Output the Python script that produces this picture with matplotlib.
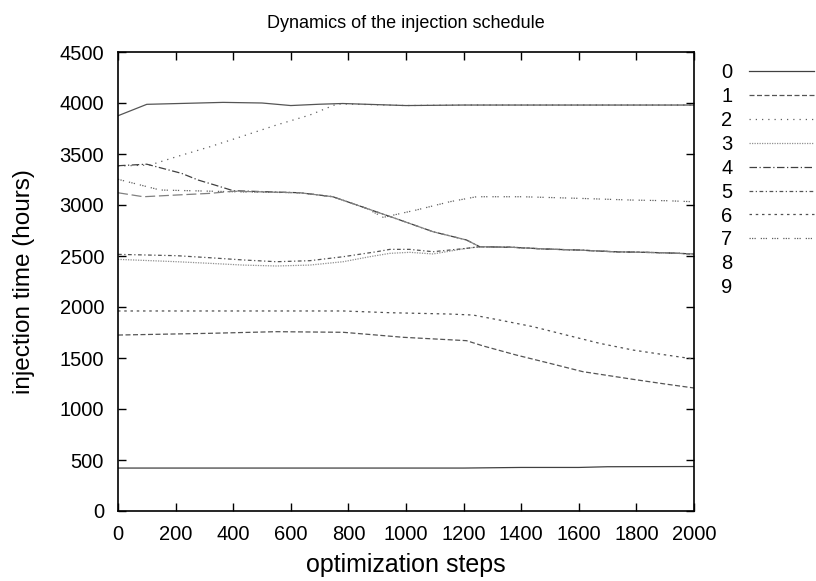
import matplotlib
matplotlib.use("Agg")
import matplotlib.pyplot as plt
from matplotlib.lines import Line2D

plt.rcParams['font.family'] = ['Liberation Sans', 'DejaVu Sans']

title = "Dynamics of the injection schedule"
xlabel = "optimization steps"
ylabel = "injection time (hours)"
labels = ["0", "1", "2", "3", "4", "5", "6", "7", "8", "9"]

# series data (optimization step, injection time)
x0 = [0, 250, 850, 1200, 1400, 1600, 1700, 2000]
y0 = [421, 421, 421, 421, 427, 427, 434, 436]

x1 = [0, 319, 550, 782, 898, 990, 1210, 1268, 1383, 1499, 1614, 1788, 1900, 2000]
y1 = [1725, 1742, 1758, 1752, 1725, 1703, 1670, 1618, 1529, 1448, 1366, 1291, 1245, 1206]

x2 = [0, 111, 204, 319, 434, 550, 666, 760, 800, 1000, 1200, 2000]
y2 = [3382, 3392, 3474, 3571, 3676, 3784, 3882, 3990, 3990, 3975, 3980, 3980]

x3 = [0, 204, 319, 435, 550, 666, 782, 874, 944, 1013, 1094, 1210, 1256, 1372, 1487, 1603, 1719, 1892, 2000]
y3 = [2467, 2444, 2428, 2411, 2402, 2411, 2444, 2493, 2526, 2536, 2520, 2575, 2591, 2585, 2568, 2558, 2542, 2532, 2520]

x4 = [0, 100, 221, 278, 336, 400, 632, 746, 863, 979, 1094, 1210, 1256, 1372, 1487, 1603, 1719, 1892, 2000]
y4 = [3385, 3400, 3310, 3245, 3196, 3140, 3120, 3081, 2967, 2853, 2738, 2657, 2591, 2585, 2568, 2558, 2542, 2532, 2520]

x5 = [0, 204, 319, 435, 550, 666, 782, 898, 944, 1013, 1094, 1210, 1256, 1372, 1487, 1603, 1719, 1892, 2000]
y5 = [2516, 2503, 2483, 2461, 2444, 2454, 2493, 2542, 2565, 2565, 2542, 2575, 2591, 2585, 2568, 2558, 2542, 2532, 2520]

x6 = [0, 400, 782, 944, 1152, 1233, 1325, 1441, 1557, 1672, 1788, 1904, 2000]
y6 = [1961, 1961, 1961, 1944, 1931, 1921, 1872, 1807, 1725, 1644, 1578, 1529, 1490]

x7 = [0, 146, 400, 632, 746, 863, 921, 1036, 1152, 1245, 1405, 1603, 1777, 1904, 2000]
y7 = [3252, 3147, 3130, 3120, 3081, 2967, 2879, 2951, 3032, 3081, 3081, 3065, 3049, 3042, 3032]

x8 = [0, 100, 365, 500, 600, 700, 780, 1000, 1200, 2000]
y8 = [3875, 3987, 4006, 4000, 3975, 3988, 3995, 3975, 3980, 3980]

x9 = [0, 88, 204, 319, 400, 632, 746, 863, 979, 1094, 1210, 1256, 1372, 1487, 1603, 1719, 1892, 2000]
y9 = [3120, 3081, 3098, 3114, 3135, 3120, 3081, 2967, 2853, 2738, 2657, 2591, 2585, 2568, 2558, 2542, 2532, 2520]

xs = [x0, x1, x2, x3, x4, x5, x6, x7, x8, x9]
ys = [y0, y1, y2, y3, y4, y5, y6, y7, y8, y9]

styles = [
    ('-', '#404040'),
    ((0, (4, 2)), '#555555'),
    ((0, (1, 4)), '#606060'),
    ((0, (1, 1)), '#909090'),
    ((0, (6, 2, 1, 2)), '#404040'),
    ((0, (3, 2, 1, 2)), '#555555'),
    ((0, (2, 3)), '#505050'),
    ((0, (1, 1, 1, 1, 1, 4)), '#606060'),
    ('-', '#555555'),
    ((0, (8, 3)), '#808080'),
]

fig = plt.figure(figsize=(8.16, 5.81), dpi=100)
ax = fig.add_axes([118 / 816, 70 / 581, 576 / 816, 459 / 581])

handles = []
for i in range(10):
    ls, c = styles[i]
    ln, = ax.plot(xs[i], ys[i], linestyle=ls, color=c, linewidth=0.9)
    handles.append(ln)

ax.set_xlim(0, 2000)
ax.set_ylim(0, 4500)
ax.set_xticks(range(0, 2001, 200))
ax.set_yticks(range(0, 4501, 500))
ax.tick_params(direction='in', length=6, width=1, top=True, right=True,
               labelsize=14.5, colors='black')
ax.tick_params(axis='y', pad=10)
ax.tick_params(axis='x', pad=10)
for s in ax.spines.values():
    s.set_linewidth(1.2)
    s.set_color('black')

ax.set_title(title, fontsize=13, pad=17)
ax.set_xlabel(xlabel, fontsize=18)
ax.set_ylabel(ylabel, fontsize=17.5)
ax.xaxis.set_label_coords(0.5, (511 - 553) / 459)
ax.yaxis.set_label_coords((35 - 118) / 576, 0.5)

leg_handles = handles[:8] + [Line2D([], [], linestyle='None'), Line2D([], [], linestyle='None')]
fig.legend(leg_handles, labels, loc='upper left',
           bbox_to_anchor=(721 / 816, 1 - 63.5 / 581), bbox_transform=fig.transFigure,
           frameon=False, markerfirst=False, fontsize=14.5, borderpad=0,
           borderaxespad=0, handlelength=3.2, handletextpad=0.85, labelspacing=0.24)

fig.savefig("out.png", dpi=100)
